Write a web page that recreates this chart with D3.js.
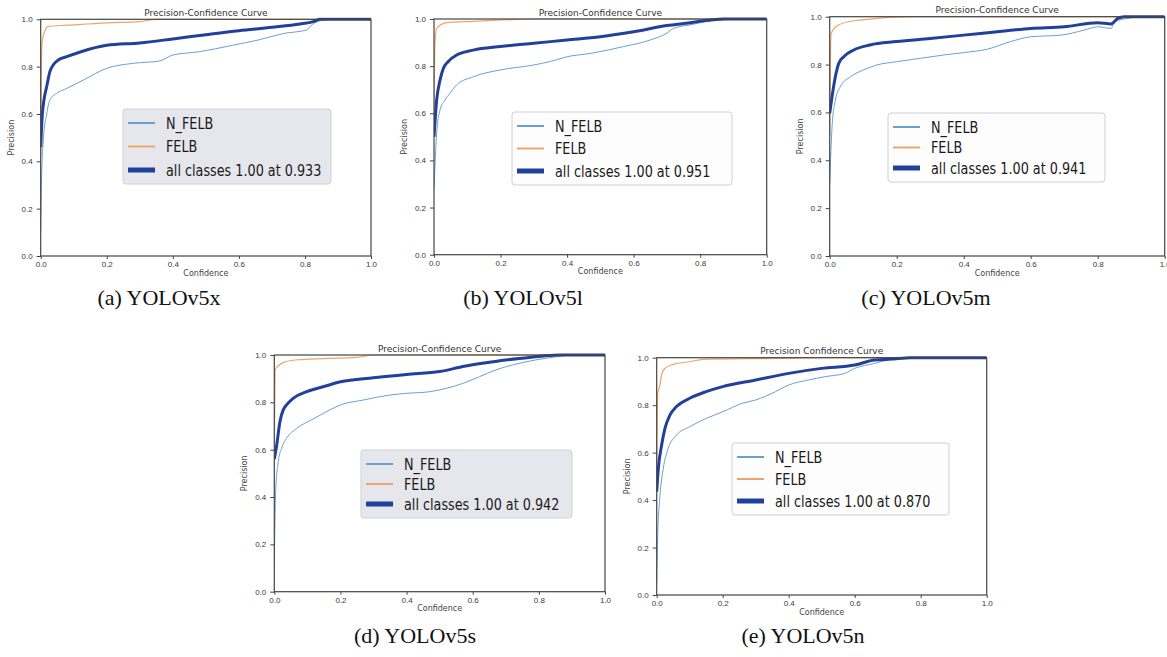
<!DOCTYPE html>
<html>
<head>
<meta charset="utf-8">
<script src="https://cdn.jsdelivr.net/npm/d3@7"></script>
<style>
  body { margin: 0; background: #fff; }
  svg { display: block; font-family: "DejaVu Sans", sans-serif; }
</style>
</head>
<body>
<div id="elements"></div>
<script>
// series names and the per-model best-confidence text
var seriesNames = ["N_FELB", "FELB", "all classes"];
var captions = ["(a) YOLOv5x", "(b) YOLOv5l", "(c) YOLOv5m", "(d) YOLOv5s", "(e) YOLOv5n"];
var bestConf = ["0.933", "0.951", "0.941", "0.942", "0.870"];
var titles = ["Precision-Confidence Curve", "Precision-Confidence Curve", "Precision-Confidence Curve",
              "Precision-Confidence Curve", "Precision Confidence Curve"];
var tickValues = [0, 0.2, 0.4, 0.6, 0.8, 1.0];

// [confidence, precision] pairs
var nfelbA = [[0,0.1],[0.003,0.35],[0.008,0.49],[0.018,0.6],[0.028,0.66],[0.048,0.687],[0.079,0.708],[0.13,0.744],[0.2,0.793],[0.28,0.814],[0.36,0.824],[0.4,0.849],[0.48,0.863],[0.58,0.89],[0.66,0.913],[0.735,0.94],[0.805,0.955],[0.82,0.976],[0.846,0.994],[0.886,1],[1,1]];
var felbA  = [[0,0.42],[0.002,0.8],[0.004,0.9],[0.01,0.94],[0.023,0.97],[0.08,0.975],[0.2,0.985],[0.3,0.99],[0.35,1],[1,1]];
var allA   = [[0,0.46],[0.005,0.6],[0.01,0.66],[0.018,0.715],[0.028,0.78],[0.038,0.807],[0.053,0.828],[0.079,0.842],[0.12,0.862],[0.2,0.89],[0.3,0.9],[0.4,0.917],[0.5,0.935],[0.6,0.952],[0.7,0.966],[0.785,0.98],[0.825,0.99],[0.846,1],[1,1]];

var nfelbB = [[0,0.28],[0.008,0.515],[0.018,0.614],[0.033,0.656],[0.048,0.685],[0.068,0.72],[0.118,0.755],[0.2,0.784],[0.3,0.805],[0.35,0.82],[0.4,0.84],[0.47,0.854],[0.57,0.883],[0.65,0.911],[0.7,0.94],[0.72,0.96],[0.77,0.975],[0.82,0.989],[0.87,0.996],[0.92,1],[1,1]];
var felbB  = [[0,0.6],[0.003,0.9],[0.008,0.96],[0.038,0.985],[0.12,0.99],[0.3,1],[1,1]];
var allB   = [[0,0.5],[0.008,0.656],[0.018,0.74],[0.028,0.79],[0.043,0.82],[0.068,0.847],[0.118,0.868],[0.2,0.883],[0.3,0.897],[0.4,0.911],[0.5,0.925],[0.6,0.946],[0.7,0.972],[0.77,0.984],[0.83,0.996],[0.87,1],[1,1]];

var nfelbC = [[0,0.3],[0.007,0.54],[0.017,0.652],[0.032,0.708],[0.062,0.749],[0.1,0.777],[0.14,0.798],[0.2,0.812],[0.27,0.826],[0.34,0.84],[0.4,0.85],[0.47,0.864],[0.54,0.896],[0.6,0.916],[0.69,0.923],[0.76,0.944],[0.8,0.958],[0.84,0.951],[0.85,0.979],[0.89,0.993],[0.93,1],[1,1]];
var felbC  = [[0,0.5],[0.004,0.93],[0.02,0.96],[0.06,0.98],[0.12,0.99],[0.25,1],[1,1]];
var allC   = [[0,0.596],[0.007,0.666],[0.017,0.75],[0.027,0.805],[0.042,0.833],[0.072,0.861],[0.12,0.882],[0.2,0.896],[0.3,0.909],[0.4,0.923],[0.5,0.937],[0.6,0.951],[0.7,0.958],[0.8,0.975],[0.84,0.97],[0.86,0.993],[0.88,1],[1,1]];

var nfelbD = [[0,0.12],[0.004,0.42],[0.012,0.55],[0.022,0.606],[0.037,0.648],[0.068,0.69],[0.118,0.73],[0.168,0.768],[0.2,0.789],[0.27,0.81],[0.35,0.831],[0.4,0.838],[0.47,0.845],[0.52,0.859],[0.57,0.88],[0.62,0.908],[0.67,0.937],[0.72,0.958],[0.79,0.979],[0.855,0.993],[0.9,1],[1,1]];
var felbD  = [[0,0.55],[0.003,0.94],[0.03,0.97],[0.07,0.98],[0.15,0.985],[0.25,0.99],[0.3,1],[1,1]];
var allD   = [[0,0.56],[0.007,0.617],[0.017,0.718],[0.027,0.768],[0.037,0.789],[0.057,0.817],[0.098,0.845],[0.158,0.87],[0.2,0.887],[0.3,0.904],[0.4,0.918],[0.5,0.93],[0.57,0.951],[0.65,0.969],[0.7,0.979],[0.77,0.989],[0.82,0.997],[0.87,1],[1,1]];

var nfelbE = [[0,0.05],[0.003,0.25],[0.01,0.42],[0.02,0.534],[0.035,0.618],[0.06,0.674],[0.1,0.709],[0.15,0.744],[0.2,0.772],[0.26,0.808],[0.3,0.822],[0.36,0.857],[0.4,0.885],[0.46,0.906],[0.51,0.92],[0.57,0.934],[0.6,0.955],[0.66,0.976],[0.7,0.99],[0.77,0.997],[0.82,1],[1,1]];
var felbE  = [[0,0.55],[0.003,0.85],[0.01,0.885],[0.015,0.93],[0.025,0.955],[0.05,0.972],[0.1,0.983],[0.14,0.993],[0.36,0.997],[0.5,1],[1,1]];
var allE   = [[0,0.435],[0.005,0.534],[0.015,0.632],[0.025,0.702],[0.04,0.758],[0.06,0.794],[0.1,0.829],[0.15,0.857],[0.2,0.878],[0.3,0.906],[0.4,0.934],[0.5,0.955],[0.6,0.969],[0.66,0.99],[0.71,0.994],[0.77,1],[1,1]];

var panelData = [
  [nfelbA, felbA, allA],
  [nfelbB, felbB, allB],
  [nfelbC, felbC, allC],
  [nfelbD, felbD, allD],
  [nfelbE, felbE, allE]
];

// layout (pixels): plot box, legend box, caption position
var plots = [
  {l: 40.7, r: 371, t: 19.3, b: 256},
  {l: 434, r: 766.7, t: 19, b: 254.7},
  {l: 829.7, r: 1164.7, t: 16.7, b: 256},
  {l: 274.3, r: 605, t: 355, b: 591.7},
  {l: 656.7, r: 986.7, t: 357.7, b: 595}
];
var legends = [
  {x: 123, y: 109, w: 208, h: 75, fill: "#e6e7ec"},
  {x: 512, y: 112, w: 220, h: 73, fill: "#fdfdfd"},
  {x: 888, y: 113, w: 217, h: 69, fill: "#fdfdfd"},
  {x: 361, y: 450, w: 211, h: 68, fill: "#e6e7ec"},
  {x: 732, y: 443, w: 217, h: 72, fill: "#fdfdfd"}
];
var capPos = [[159, 305], [523, 305], [926, 305], [415, 643], [803, 643]];

var colors = ["#6a9fd0", "#eea46a", "#22409a"];
var widths = [1, 1.2, 3];

var width = 1167, height = 657;

var svg = d3.select("#elements").append("svg")
  .attr("width", width)
  .attr("height", height);

panelData.forEach(function(series, i) {
  var p = plots[i];
  var x = d3.scaleLinear().domain([0, 1]).range([p.l, p.r]);
  var y = d3.scaleLinear().domain([0, 1]).range([p.b, p.t]);
  var g = svg.append("g").attr("class", "panel");

  var line = d3.line()
    .curve(d3.curveMonotoneX)
    .x(function(d) { return x(d[0]); })
    .y(function(d) { return y(d[1]); });

  var clipId = "clip" + i;
  g.append("clipPath").attr("id", clipId)
    .append("rect")
      .attr("x", p.l).attr("y", p.t - 2)
      .attr("width", p.r - p.l).attr("height", p.b - p.t + 2);

  g.selectAll("path.curve")
    .data(series)
    .enter()
      .append("path")
        .attr("class", "curve")
        .attr("clip-path", "url(#" + clipId + ")")
        .attr("fill", "none")
        .attr("stroke", function(d, k) { return colors[k]; })
        .attr("stroke-width", function(d, k) { return widths[k]; })
        .attr("stroke-linejoin", "round")
        .attr("d", line);

  // axes
  var xAxis = g.append("g")
    .attr("transform", "translate(0," + p.b + ")")
    .call(d3.axisBottom(x).tickValues(tickValues).tickFormat(d3.format(".1f")).tickSize(3).tickPadding(2.5));
  var yAxis = g.append("g")
    .attr("transform", "translate(" + p.l + ",0)")
    .call(d3.axisLeft(y).tickValues(tickValues).tickFormat(d3.format(".1f")).tickSize(4).tickPadding(4));
  [xAxis, yAxis].forEach(function(ax) {
    ax.select(".domain").remove();
    ax.selectAll("text").style("font-size", "8px").attr("fill", "#3a3a3a");
    ax.selectAll("line").attr("stroke", "#444");
  });

  // frame
  g.append("rect")
    .attr("x", p.l).attr("y", p.t)
    .attr("width", p.r - p.l).attr("height", p.b - p.t)
    .attr("fill", "none")
    .attr("stroke", "#444")
    .attr("stroke-width", 1.2);

  g.append("text")
    .attr("x", (p.l + p.r) / 2).attr("y", p.t - 3.5)
    .attr("text-anchor", "middle")
    .style("font-size", "9px").attr("fill", "#333")
    .text(titles[i]);

  g.append("text")
    .attr("x", (p.l + p.r) / 2).attr("y", p.b + 19.5)
    .attr("text-anchor", "middle")
    .style("font-size", "8px").attr("fill", "#444")
    .text("Confidence");

  g.append("text")
    .attr("transform", "translate(" + (p.l - 27) + "," + ((p.t + p.b) / 2) + ") rotate(-90)")
    .attr("text-anchor", "middle")
    .style("font-size", "8px").attr("fill", "#444")
    .text("Precision");

  // legend
  var lg = legends[i];
  var leg = g.append("g").attr("transform", "translate(" + lg.x + "," + lg.y + ")");
  leg.append("rect")
    .attr("width", lg.w).attr("height", lg.h)
    .attr("rx", 3)
    .attr("fill", lg.fill)
    .attr("stroke", "#cfd0d4");
  var step = (lg.h - 28) / 2;
  seriesNames.forEach(function(name, k) {
    var cy = 14 + k * step;
    leg.append("line")
      .attr("x1", 5).attr("x2", 32)
      .attr("y1", cy).attr("y2", cy)
      .attr("stroke", colors[k])
      .attr("stroke-width", k == 2 ? 5 : 2);
    leg.append("text")
      .attr("transform", "translate(43," + (cy + 5.5) + ") scale(0.8,1)")
      .style("font-size", "16px")
      .attr("fill", "#1a1a1a")
      .text(k == 2 ? name + " 1.00 at " + bestConf[i] : name);
  });

  svg.append("text")
    .attr("x", capPos[i][0]).attr("y", capPos[i][1])
    .attr("text-anchor", "middle")
    .style("font-family", "'Liberation Serif', serif")
    .style("font-size", "22px")
    .attr("fill", "#111")
    .text(captions[i]);
});
</script>
</body>
</html>
